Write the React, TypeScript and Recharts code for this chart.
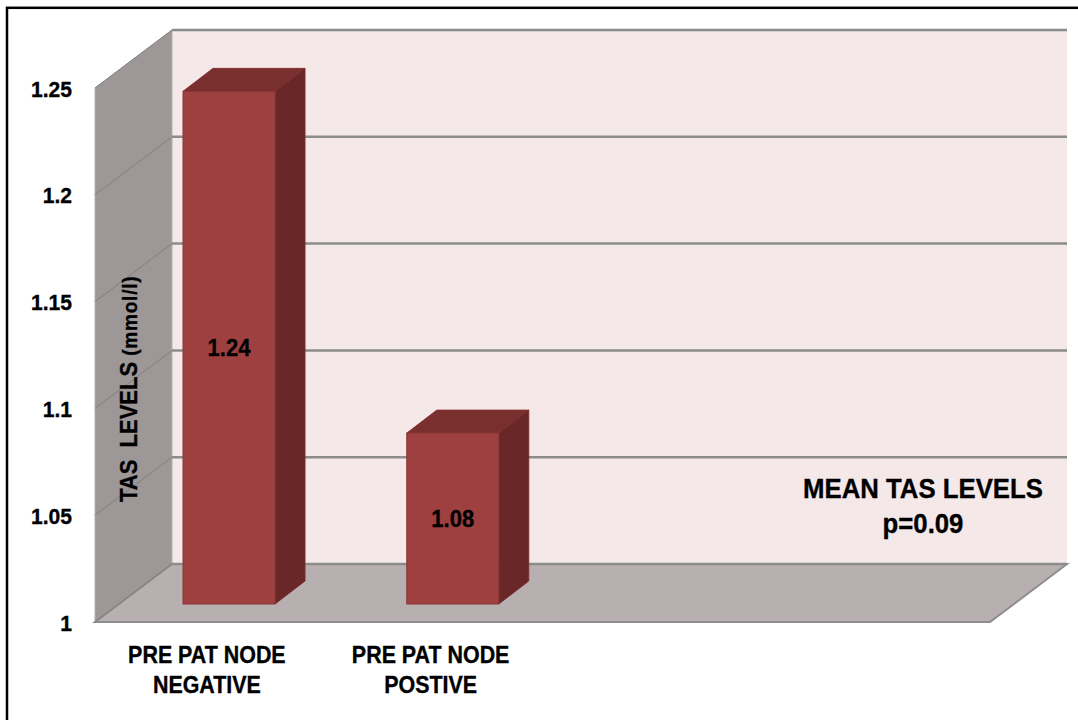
import { BarChart, Bar, XAxis, YAxis, CartesianGrid, LabelList } from "recharts";

// two empty slots on the right keep the bars in the left half of the floor
const categories = ["PRE PAT NODE\nNEGATIVE", "PRE PAT NODE\nPOSTIVE", "", " "];
const meanTas = [1.24, 1.08, null, null];
const yTicks = [1, 1.05, 1.1, 1.15, 1.2, 1.25];
const yAxisTitle = "TAS  LEVELS";
const yAxisUnit = "(mmol/l)";
const noteLines = ["MEAN TAS LEVELS", "p=0.09"];

const data = categories.map((name, i) => ({ name, tas: meanTas[i] }));

const FONT = '"Liberation Sans", Arial, sans-serif';
// squeeze the bold face a little so it reads like a narrow font
const SQUEEZE = 0.92;

// depth of the side wall / floor, and of the boxes
const WALL_DX = 77;
const WALL_DY = -58;
const BAR_SHIFT_X = 22;
const BAR_SHIFT_Y = -18;
const BAR_DX = 30;
const BAR_DY = -23;

const Txt = ({ x, y, size, anchor = "middle", children }: any) => (
  <text
    transform={`translate(${x},${y}) scale(${SQUEEZE},1)`}
    textAnchor={anchor}
    fontFamily={FONT}
    fontWeight="bold"
    fontSize={size}
    fill="#000"
    stroke="#000"
    strokeWidth={0.35}
  >
    {children}
  </text>
);

// back wall, side wall and floor, drawn with the first grid line so the
// remaining grid lines land on top of them
const Walls = ({ x, y, width, height }: any) => {
  const bottom = y + height;
  const right = x + width;
  return (
    <g>
      <rect x={x + WALL_DX} y={y + WALL_DY} width={width} height={height} fill="#F4E8E8" />
      <polygon
        points={`${x},${y} ${x + WALL_DX},${y + WALL_DY} ${x + WALL_DX},${bottom + WALL_DY} ${x},${bottom}`}
        fill="#9D9897"
        stroke="#B3B0AF"
        strokeWidth={1}
      />
      <polygon
        points={`${x},${bottom} ${x + WALL_DX},${bottom + WALL_DY} ${right + WALL_DX},${bottom + WALL_DY} ${right},${bottom}`}
        fill="#B8B0B0"
        stroke="#8E8E8E"
        strokeWidth={2}
      />
    </g>
  );
};

const gridLine = (props: any) => {
  const { x1, y1, x2, index } = props;
  return (
    <g key={`g-${y1}`}>
      {index === 0 && <Walls x={props.x} y={props.y} width={props.width} height={props.height} />}
      <line x1={x1} y1={y1} x2={x1 + WALL_DX} y2={y1 + WALL_DY} stroke="#7F7F7F" strokeWidth={1} />
      <line
        x1={x1 + WALL_DX}
        y1={y1 + WALL_DY}
        x2={x2 + WALL_DX}
        y2={y1 + WALL_DY}
        stroke="#8C8C8C"
        strokeWidth={2.5}
      />
    </g>
  );
};

const Box = (props: any) => {
  const { x, y, width, height } = props;
  if (!height || height <= 0) return null;
  const fx = x + BAR_SHIFT_X;
  const fy = y + BAR_SHIFT_Y;
  const fr = fx + width;
  const fb = fy + height;
  return (
    <g>
      <polygon
        points={`${fx},${fy} ${fx + BAR_DX},${fy + BAR_DY} ${fr + BAR_DX},${fy + BAR_DY} ${fr},${fy}`}
        fill="#7A2F2F"
        stroke="#8A3434"
        strokeWidth={1}
      />
      <polygon
        points={`${fr},${fy} ${fr + BAR_DX},${fy + BAR_DY} ${fr + BAR_DX},${fb + BAR_DY} ${fr},${fb}`}
        fill="#6A2728"
        stroke="#7A2E2E"
        strokeWidth={1}
      />
      <rect x={fx} y={fy} width={width} height={height} fill="#9E4040" stroke="#8B3535" strokeWidth={1} />
    </g>
  );
};

const ValueLabel = (props: any) => {
  const { x, y, width, height, value } = props;
  if (value == null) return null;
  return (
    <Txt x={x + width / 2 + BAR_SHIFT_X} y={y + height / 2 + BAR_SHIFT_Y + 8.5} size={24}>
      {value}
    </Txt>
  );
};

const YTick = (props: any) => {
  const { x, y, payload } = props;
  return (
    <Txt x={x} y={y + 8.5} size={22.9} anchor="end">
      {payload.value}
    </Txt>
  );
};

const XTick = (props: any) => {
  const { x, y, payload } = props;
  const lines = String(payload.value).split("\n");
  return (
    <g>
      {lines.map((line, i) => (
        <Txt key={i} x={x} y={y + 41 + i * 30} size={23.3}>
          {line}
        </Txt>
      ))}
    </g>
  );
};

const Notes = () => (
  <g>
    <rect x={7} y={7.8} width={1200} height={800} fill="none" stroke="#000" strokeWidth={2.5} />
    <text
      transform="translate(137,502) rotate(-90) scale(1,1.1)"
      fontFamily={FONT}
      fontWeight="bold"
      fontSize={22}
      fill="#000"
      stroke="#000"
      strokeWidth={0.35}
      style={{ whiteSpace: "pre" }}
    >
      {yAxisTitle}
      <tspan fontSize={19} letterSpacing={0.8}>
        {" " + yAxisUnit}
      </tspan>
    </text>
    {noteLines.map((line, i) => (
      <Txt key={line} x={923} y={498 + i * 35} size={28}>
        {line}
      </Txt>
    ))}
  </g>
);

const App = () => {
  return (
    <div style={{ position: "absolute", left: 0, top: 0 }}>
      <BarChart
        width={1078}
        height={720}
        data={data}
        barSize={92}
        margin={{ top: 88, right: 88, bottom: 38, left: 0 }}
      >
        <CartesianGrid vertical={false} horizontal={gridLine} />
        <XAxis
          dataKey="name"
          height={60}
          axisLine={false}
          tickLine={false}
          tickSize={0}
          tickMargin={0}
          interval={0}
          tick={XTick}
        />
        <YAxis
          type="number"
          domain={[1, 1.25]}
          ticks={yTicks}
          width={95}
          axisLine={false}
          tickLine={false}
          tickSize={0}
          tickMargin={23}
          interval={0}
          tick={YTick}
        />
        <Bar dataKey="tas" shape={Box} isAnimationActive={false}>
          <LabelList dataKey="tas" content={ValueLabel} />
        </Bar>
        <Notes />
      </BarChart>
    </div>
  );
};

export default App;
